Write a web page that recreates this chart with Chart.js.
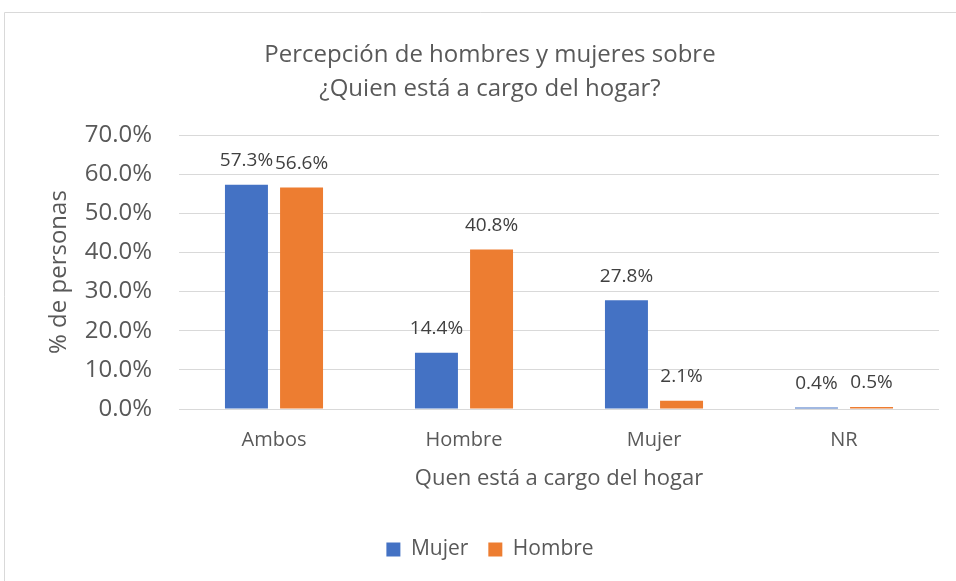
<!DOCTYPE html>
<html>

<head>
    <meta charset="utf-8">
    <title>Percepción de hombres y mujeres</title>
    <script src="https://cdn.jsdelivr.net/npm/chart.js"></script>
    <style>
        body {
            margin: 0;
            padding: 0;
            background-color: #FFF;
        }

        .chart-box {
            position: relative;
            width: 956px;
            height: 581px;
        }
    </style>
</head>

<body>
    <div class="chart-box">
        <canvas id="barGraph"></canvas>
    </div>

    <script>
        // Data
        const categories = ['Ambos', 'Hombre', 'Mujer', 'NR'];
        const mujerValues = [0.573, 0.144, 0.278, 0.004];
        const hombreValues = [0.566, 0.408, 0.021, 0.005];
        const seriesNames = ['Mujer', 'Hombre'];
        const yTicks = [0, 0.1, 0.2, 0.3, 0.4, 0.5, 0.6, 0.7];

        const textColor = '#595959';
        const fontFamily = "'Open Sans', 'Liberation Sans', sans-serif";

        // border around the chart (only left and top are visible in the picture)
        const frame = {
            id: 'frame',
            beforeDraw(chart) {
                const ctx = chart.ctx;
                ctx.save();
                ctx.fillStyle = '#FFF';
                ctx.fillRect(0, 0, chart.width, chart.height);
                ctx.strokeStyle = '#D9D9D9';
                ctx.lineWidth = 1;
                ctx.beginPath();
                ctx.moveTo(4.5, chart.height);
                ctx.lineTo(4.5, 12.5);
                ctx.lineTo(chart.width, 12.5);
                ctx.stroke();
                ctx.restore();
            }
        };

        // value labels on top of each bar
        const barLabels = {
            id: 'barLabels',
            afterDatasetsDraw(chart) {
                const ctx = chart.ctx;
                ctx.save();
                ctx.font = '19px ' + fontFamily;
                ctx.fillStyle = '#404040';
                ctx.textAlign = 'center';
                ctx.textBaseline = 'middle';
                chart.data.datasets.forEach((dataset, i) => {
                    chart.getDatasetMeta(i).data.forEach((bar, j) => {
                        const txt = (dataset.data[j] * 100).toFixed(1) + '%';
                        ctx.fillText(txt, bar.x, bar.y - 24);
                    });
                });
                ctx.restore();
            }
        };

        const barChart = new Chart(document.getElementById('barGraph').getContext('2d'), {
            type: 'bar',
            data: {
                labels: categories,
                datasets: [
                    { label: seriesNames[0], data: mujerValues, backgroundColor: '#4472C4' },
                    { label: seriesNames[1], data: hombreValues, backgroundColor: '#ED7D31' }
                ]
            },
            options: {
                responsive: true,
                maintainAspectRatio: false,
                animation: false,
                layout: {
                    padding: { left: 41, right: 17, top: 0, bottom: 11 }
                },
                datasets: {
                    bar: { categoryPercentage: 0.58, barPercentage: 0.78 }
                },
                scales: {
                    x: {
                        afterFit(scale) {
                            scale.height = 110;
                        },
                        grid: { display: false },
                        border: { display: false },
                        ticks: {
                            color: textColor,
                            font: { family: fontFamily, size: 20 },
                            padding: 11
                        },
                        title: {
                            display: true,
                            text: 'Quen está a cargo del hogar',
                            color: textColor,
                            font: { family: fontFamily, size: 22 },
                            padding: { top: 0, bottom: 27 }
                        }
                    },
                    y: {
                        min: 0,
                        max: 0.7,
                        afterBuildTicks(scale) {
                            scale.ticks = yTicks.map(v => ({ value: v }));
                        },
                        afterFit(scale) {
                            scale.width = 138;
                        },
                        grid: { color: '#D9D9D9', drawTicks: false },
                        border: { display: false },
                        ticks: {
                            color: textColor,
                            font: { family: fontFamily, size: 24 },
                            padding: 27,
                            callback: v => (v * 100).toFixed(1) + '%'
                        },
                        title: {
                            display: true,
                            text: '% de personas',
                            color: textColor,
                            font: { family: fontFamily, size: 24 },
                            padding: { top: 4, bottom: 0 }
                        }
                    }
                },
                plugins: {
                    title: {
                        display: true,
                        text: ['Percepción de hombres y mujeres sobre', '¿Quien está a cargo del hogar?'],
                        color: textColor,
                        font: { family: fontFamily, size: 24, weight: 'normal', lineHeight: 1.42 },
                        padding: { top: 38, bottom: 29 }
                    },
                    legend: {
                        position: 'bottom',
                        labels: {
                            color: textColor,
                            font: { family: fontFamily, size: 21 },
                            boxWidth: 14,
                            boxHeight: 14,
                            padding: 20
                        }
                    },
                    tooltip: { enabled: false }
                }
            },
            plugins: [frame, barLabels]
        });
    </script>
</body>

</html>
